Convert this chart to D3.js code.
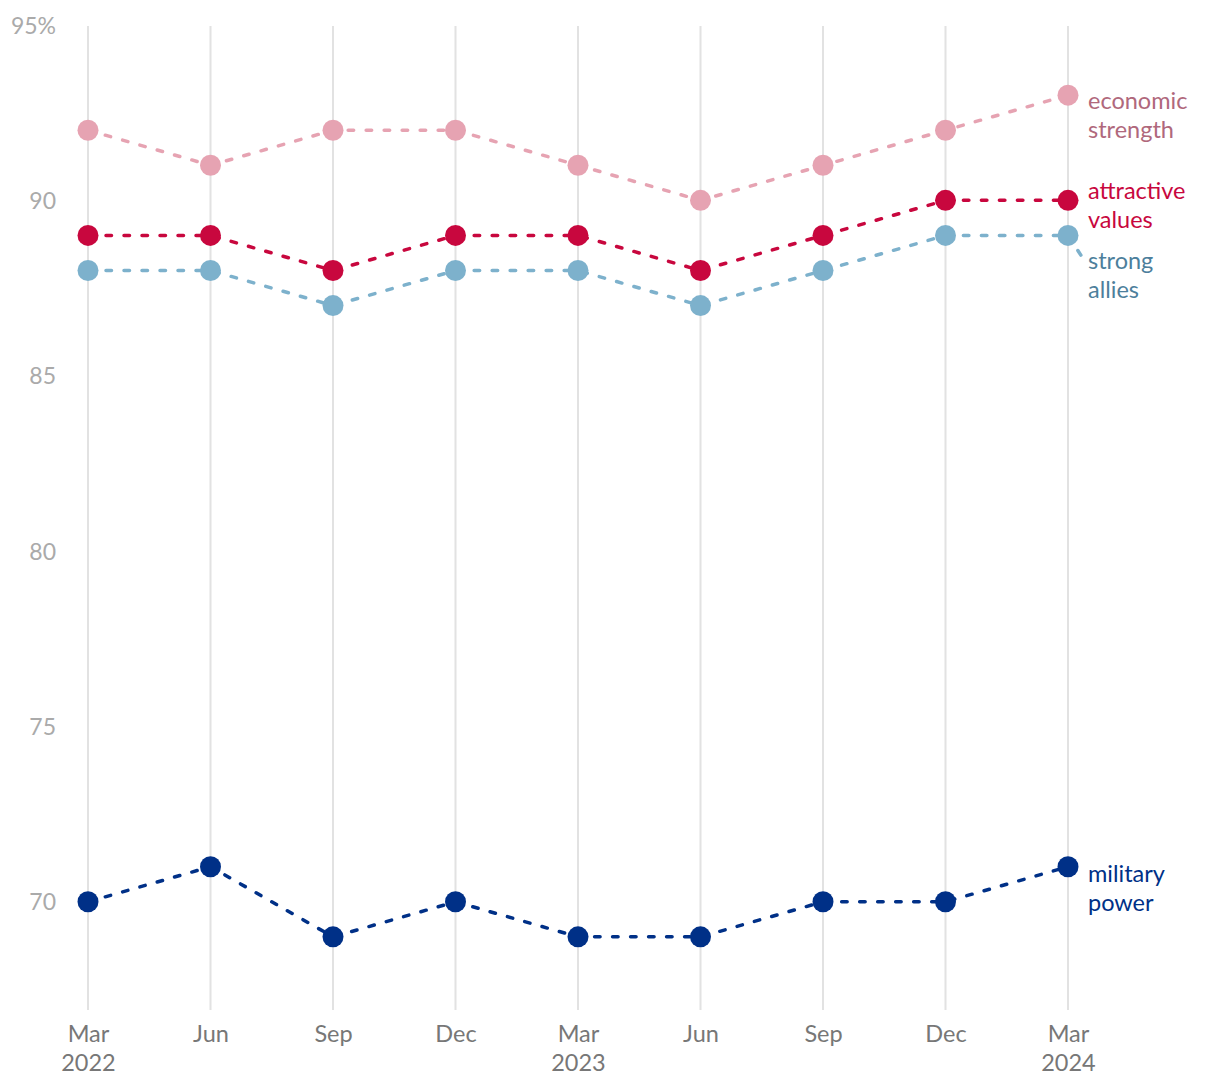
<!DOCTYPE html>
<html><head><meta charset="utf-8">
<script src="https://cdn.jsdelivr.net/npm/d3@7/dist/d3.min.js"></script>
<style>
body{margin:0;background:#fff;}
svg text{font-family:Lato,"Noto Sans",sans-serif;font-weight:400;}
</style></head>
<body>
<svg id="chart" width="1220" height="1090"></svg>
<script>
const periods = ["Mar 2022","Jun","Sep","Dec","Mar 2023","Jun","Sep","Dec","Mar 2024"];
const yTicks = [70,75,80,85,90,95];
const seriesNames = ["economic strength","attractive values","strong allies","military power"];
const economicStrength = [92,91,92,92,91,90,91,92,93];
const attractiveValues = [89,89,88,89,89,88,89,90,90];
const strongAllies = [88,88,87,88,88,87,88,89,89];
const militaryPower = [70,71,69,70,69,69,70,70,71];

const series = [
  {name:seriesNames[0], values:economicStrength, dot:"#e6a3b2", text:"#b0687c", lbl:["economic","strength"], dy:20, conn:false},
  {name:seriesNames[1], values:attractiveValues, dot:"#c8073e", text:"#c8073e", lbl:["attractive","values"], dy:4.5, conn:true},
  {name:seriesNames[2], values:strongAllies, dot:"#7db1cc", text:"#4d7f9c", lbl:["strong","allies"], dy:40, conn:true},
  {name:seriesNames[3], values:militaryPower, dot:"#003087", text:"#003087", lbl:["military","power"], dy:22, conn:false}
];

const svg = d3.select("#chart");
const x = d3.scalePoint().domain(d3.range(periods.length)).range([88,1068]);
const y = d3.scaleLinear().domain([67,95]).range([1007,25]);

// vertical gridlines
svg.append("g").selectAll("line").data(d3.range(periods.length)).join("line")
  .attr("x1",d=>x(d)).attr("x2",d=>x(d)).attr("y1",y(95)+1).attr("y2",y(67)+3)
  .attr("stroke","#e2e2e2").attr("stroke-width",2);

// y labels
const yAxis = d3.axisLeft(y).tickValues(yTicks).tickSize(0).tickPadding(0)
  .tickFormat(d=> d===95 ? "95%" : d);
const gy = svg.append("g").attr("transform","translate(56,0)").call(yAxis);
gy.select(".domain").remove();
gy.selectAll("text").attr("fill","#aaaaaa").style("font-size","23px").attr("dy","0.35em");

// x labels
const xAxis = d3.axisBottom(x).tickSize(0).tickFormat(()=>"");
const gx = svg.append("g").attr("transform","translate(0,1010)").call(xAxis);
gx.select(".domain").remove();
gx.selectAll(".tick").each(function(d){
  const parts = periods[d].split(" ");
  const t = d3.select(this).select("text").attr("fill","#777").style("font-size","23.5px")
    .attr("y",0).attr("dy",null).attr("text-anchor","middle");
  parts.forEach((p,i)=>{
    t.append("tspan").attr("x",0).attr("y",24+i*29+8).text(p);
  });
});

const line = d3.line().x((d,i)=>x(i)).y(d=>y(d));
const lastX = x(periods.length-1);

series.forEach(s=>{
  const g = svg.append("g");
  const lastY = y(s.values[s.values.length-1]);
  const cy = lastY + s.dy;
  const firstY = cy - 14.5;
  if (s.conn) {
    g.append("line").attr("x1",lastX).attr("y1",lastY).attr("x2",lastX+15)
      .attr("y2", lastY + (firstY - lastY)*0.9)
      .attr("stroke",s.dot).attr("stroke-width",3.5).attr("stroke-linecap","round")
      .attr("stroke-dasharray","5.5,12.5");
  }
  g.append("path").datum(s.values).attr("d",line).attr("fill","none")
    .attr("stroke",s.dot).attr("stroke-width",3.5).attr("stroke-linecap","round")
    .attr("stroke-dasharray","5.5,12.5");
  g.selectAll("circle").data(s.values).join("circle")
    .attr("cx",(d,i)=>x(i)).attr("cy",d=>y(d)).attr("r",10.5).attr("fill",s.dot);
  const t = g.append("text").attr("fill",s.text).style("font-size","23.5px");
  s.lbl.forEach((l,i)=>{
    t.append("tspan").attr("x",lastX+20).attr("y",firstY + i*29).attr("dy","0.35em").text(l);
  });
});
</script>
</body></html>
